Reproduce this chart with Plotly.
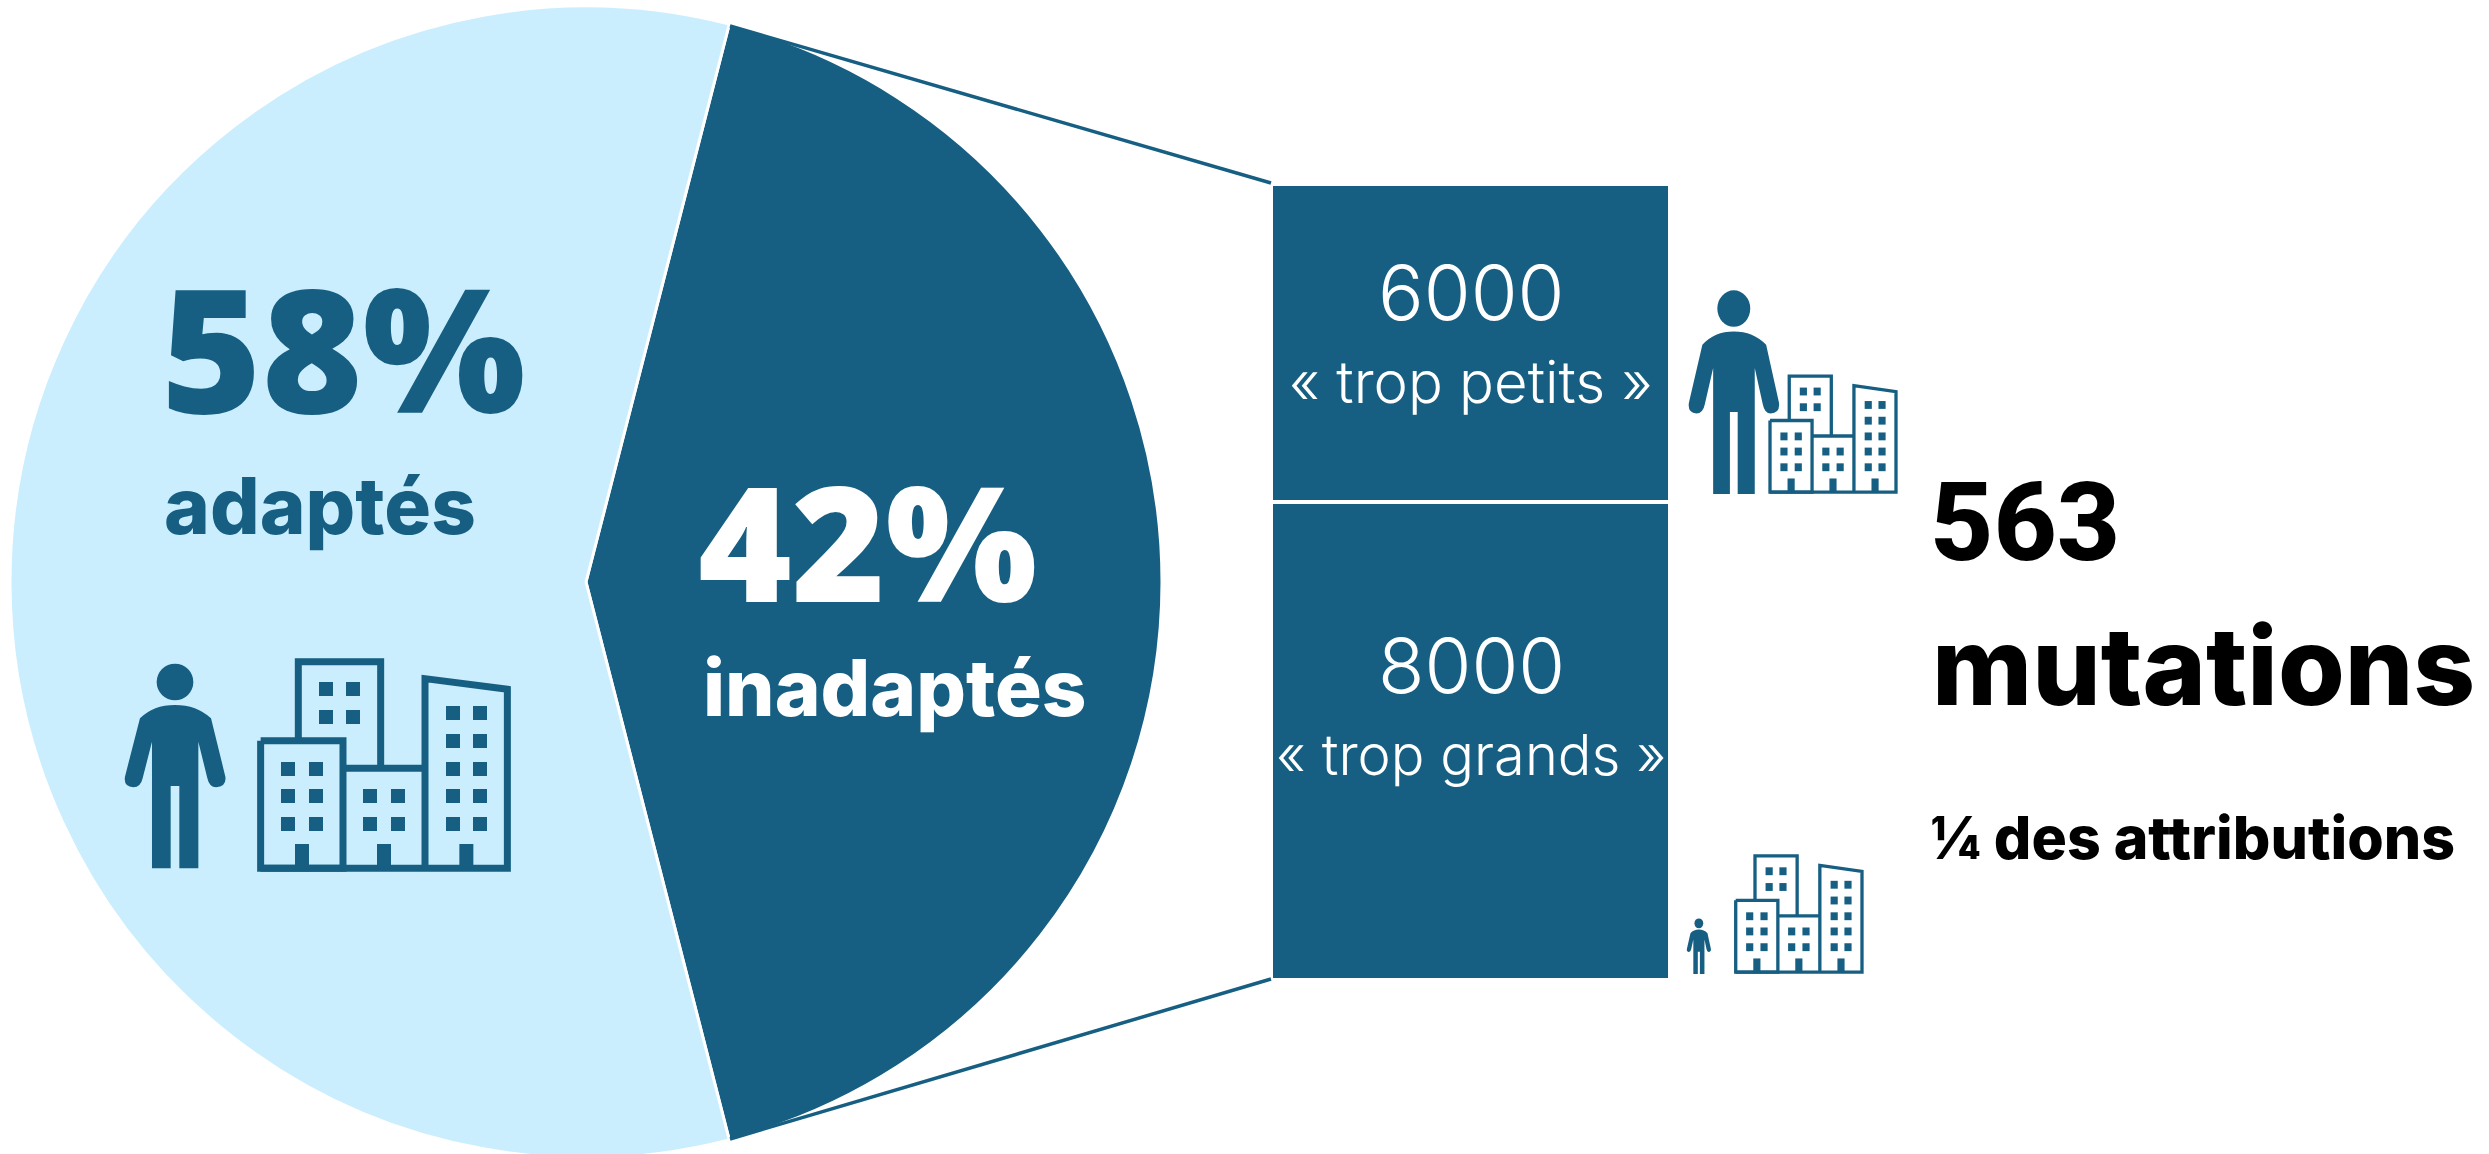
import plotly.graph_objects as go

W, H = 2489, 1160

DARK = "#165F82"
LIGHT = "#CAEEFE"

# share of housing
pie_labels = ["inadaptés", "adaptés"]
pie_values = [42, 58]

# right hand boxes (drawn 40/60 in the picture)
box_names = ["« trop petits »", "« trop grands »"]
box_counts = ["6000", "8000"]
box_heights = [40, 60]


def fx(x):
    return x / W


def fy(y):
    return 1 - y / H


# icon outlines, in a local drawing space
PERSON_BOX = (73, 130, 377, 745)
PERSON_HEAD = (225, 186, 55)
PERSON_BODY = [
    ("M", (120, 295)), ("Q", (160, 255), (225, 255)), ("Q", (290, 255), (333, 295)),
    ("L", (376, 470)), ("Q", (380, 500), (348, 502)), ("Q", (328, 502), (322, 475)),
    ("L", (295, 365)), ("L", (295, 745)), ("L", (238, 745)), ("L", (238, 498)),
    ("L", (212, 498)), ("L", (212, 745)), ("L", (156, 745)), ("L", (156, 365)),
    ("L", (128, 475)), ("Q", (122, 502), (100, 502)), ("Q", (70, 500), (75, 470)),
]
TOWN_BOX = (472, 115, 1232, 755)
TOWN_LINES = [
    [(595, 362), (595, 125), (842, 125), (842, 445)],
    [(482, 362), (729, 362), (729, 745), (482, 745), (482, 362)],
    [(729, 445), (975, 445)],
    [(482, 745), (1222, 745), (1222, 208), (975, 176), (975, 745)],
]
TOWN_WINDOWS = (
    [(x, y) for x in (657, 738) for y in (186, 270)]
    + [(x, y) for x in (543, 627) for y in (426, 507, 591)]
    + [(x, y) for x in (789, 873) for y in (507, 591)]
    + [(x, y) for x in (1038, 1119) for y in (258, 342, 426, 507, 591)]
)
TOWN_DOORS = [585, 831, 1078]


def mapper(box, target):
    bx0, by0, bx1, by1 = box
    tx0, ty0, tx1, ty1 = target
    def m(p):
        x = tx0 + (p[0] - bx0) * (tx1 - tx0) / (bx1 - bx0)
        y = ty0 + (p[1] - by0) * (ty1 - ty0) / (by1 - by0)
        return fx(x), fy(y)
    return m


def to_path(commands, m, close=True):
    parts = []
    for c in commands:
        pts = " ".join("%.6f,%.6f" % m(p) for p in c[1:])
        parts.append(c[0] + " " + pts)
    return " ".join(parts) + (" Z" if close else "")


def person_shapes(target):
    m = mapper(PERSON_BOX, target)
    cx, cy, r = PERSON_HEAD
    x0, y0 = m((cx - r, cy - r))
    x1, y1 = m((cx + r, cy + r))
    return [
        dict(type="circle", xref="paper", yref="paper", x0=x0, y0=y0, x1=x1, y1=y1,
             fillcolor=DARK, line_width=0),
        dict(type="path", xref="paper", yref="paper", path=to_path(PERSON_BODY, m),
             fillcolor=DARK, line_width=0),
    ]


def town_shapes(target, stroke):
    m = mapper(TOWN_BOX, target)
    out = []
    for pts in TOWN_LINES:
        cmds = [("M", pts[0])] + [("L", p) for p in pts[1:]]
        out.append(dict(type="path", xref="paper", yref="paper", path=to_path(cmds, m, close=False),
                        line=dict(color=DARK, width=stroke)))
    rects = [(x, y, x + 42, y + 42) for x, y in TOWN_WINDOWS]
    rects += [(x, 672, x + 42, 745) for x in TOWN_DOORS]
    for r in rects:
        cmds = [("M", (r[0], r[1])), ("L", (r[2], r[1])), ("L", (r[2], r[3])), ("L", (r[0], r[3]))]
        out.append(dict(type="path", xref="paper", yref="paper", path=to_path(cmds, m),
                        fillcolor=DARK, line_width=0))
    return out


fig = go.Figure()

fig.add_trace(go.Pie(
    labels=pie_labels,
    values=pie_values,
    sort=False,
    direction="clockwise",
    rotation=14.4,
    textinfo="none",
    hoverinfo="skip",
    showlegend=False,
    marker=dict(colors=[DARK, LIGHT], line=dict(color="white", width=3)),
    domain=dict(x=[fx(10), fx(1162)], y=[fy(1158), fy(6)]),
))

for name, h in zip(box_names, box_heights):
    fig.add_trace(go.Bar(
        x=["boites"],
        y=[h],
        name=name,
        xaxis="x",
        yaxis="y",
        width=1,
        hoverinfo="skip",
        showlegend=False,
        marker=dict(color=DARK, line=dict(color="white", width=4)),
    ))

shapes = [
    dict(type="line", xref="paper", yref="paper", x0=fx(730), y0=fy(26), x1=fx(1271), y1=fy(183),
         line=dict(color=DARK, width=3.5)),
    dict(type="line", xref="paper", yref="paper", x0=fx(730), y0=fy(1139), x1=fx(1271), y1=fy(979),
         line=dict(color=DARK, width=3.5)),
]
shapes += person_shapes((124.3, 663.3, 225.7, 868.3))
shapes += town_shapes((257.3, 658.3, 510.7, 871.7), 7)
shapes += person_shapes((1688.3, 290, 1779.3, 494))
shapes += town_shapes((1768.3, 374.3, 1897.7, 494), 3.3)
shapes += person_shapes((1686.7, 918.3, 1711, 974))
shapes += town_shapes((1734, 854, 1863.7, 974), 3.3)


def label(text, x, y, size, color, weight, family="Inter", anchor="center", box=None):
    fig.add_annotation(
        text=text, x=fx(x), y=fy(y), xref="paper", yref="paper",
        xanchor=anchor, yanchor="middle", showarrow=False, height=box,
        font=dict(family=family, size=size, color=color, weight=weight),
    )


label("58%", 344, 346, 172, DARK, 800, family="Open Sans", box=170)
label("adaptés", 320, 506, 78, DARK, 800)
label("42%", 867, 540, 160, "white", 800, family="Open Sans", box=160)
label("inadaptés", 895, 687, 78, "white", 800)
label(box_counts[0], 1471, 292, 76, "white", 300)
label(box_names[0], 1471, 382, 58, "white", 300)
label(box_counts[1], 1471, 665, 76, "white", 300)
label(box_names[1], 1471, 755, 56, "white", 300)
label("563", 1928, 523, 110, "black", 800, family="Roboto", anchor="left")
label("mutations", 1930, 665, 108, "black", 800, anchor="left")
label("¼ des attributions", 1928, 838, 59, "black", 800, anchor="left")

fig.update_layout(
    width=W,
    height=H,
    margin=dict(l=0, r=0, t=0, b=0),
    paper_bgcolor="white",
    plot_bgcolor="white",
    barmode="stack",
    bargap=0,
    shapes=shapes,
    xaxis=dict(domain=[fx(1271), fx(1670)], visible=False, range=[-0.5, 0.5], fixedrange=True),
    yaxis=dict(domain=[fy(980), fy(184)], visible=False, range=[100, 0], fixedrange=True),
)

page_fix = (
    "document.body.style.margin='0';"
    "document.body.style.overflow='hidden';"
    "document.documentElement.style.overflow='hidden';"
)
fig.write_html("out.html", post_script=page_fix, config=dict(displayModeBar=False))
